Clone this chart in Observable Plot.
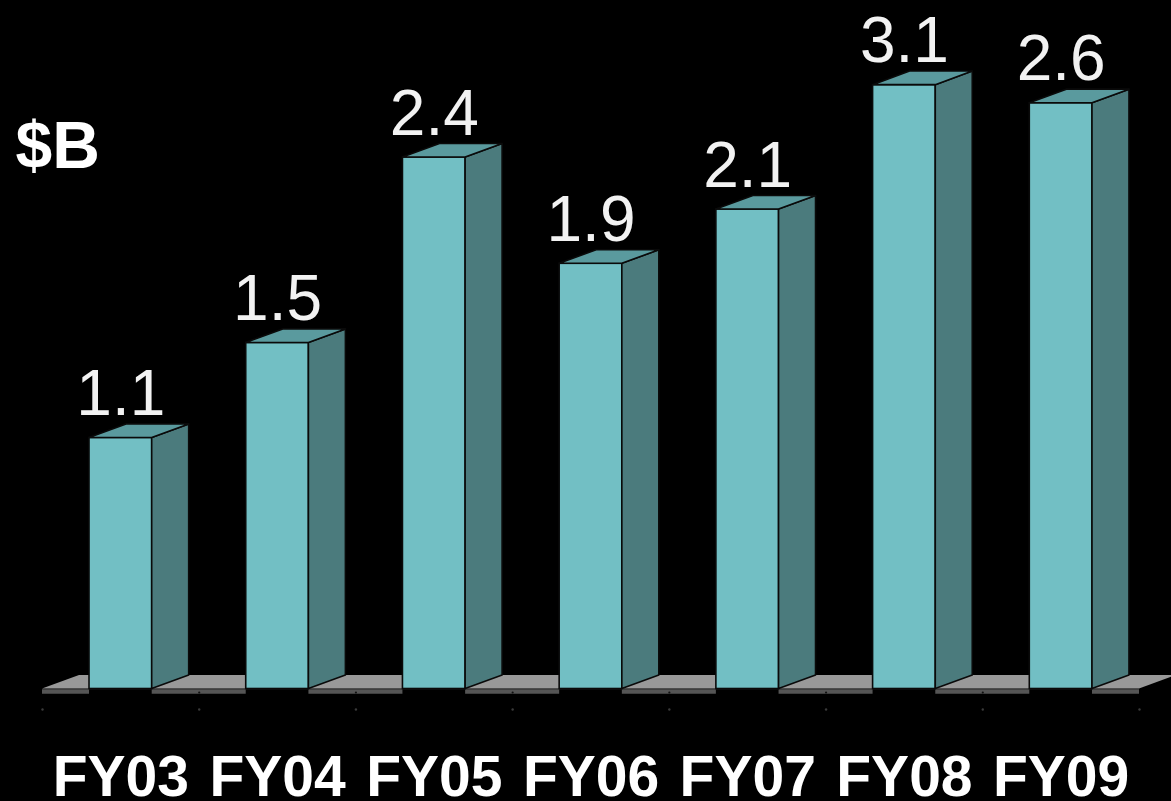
<!DOCTYPE html>
<html>
<head>
<meta charset="utf-8">
<script src="https://cdn.jsdelivr.net/npm/d3@7"></script>
<script src="https://cdn.jsdelivr.net/npm/@observablehq/plot@0.6"></script>
<style>
  html, body { margin: 0; padding: 0; background: #000; overflow: hidden; }
  #chart svg { display: block; }
</style>
</head>
<body>
<div id="chart"></div>
<script>
// ---- data ----
const categories = ["FY03", "FY04", "FY05", "FY06", "FY07", "FY08", "FY09"];
const valueLabels = ["1.1", "1.5", "2.4", "1.9", "2.1", "3.1", "2.6"];   // printed above bars
const barHeights  = [1.11, 1.53, 2.35, 1.88, 2.12, 2.67, 2.59];           // drawn bar heights ($B)
const unitLabel = "$B";

// ---- 3D styling constants (data units) ----
const HALF = 0.2;     // half width of the front face
const DX = 0.236;     // depth offset along x
const DY = 0.06;      // depth offset along y

const idx = categories.map((_, i) => i);
const frontFaces = idx.map(i => ({cat: categories[i], x1: i - HALF, x2: i + HALF, y1: 0, y2: barHeights[i]}));
const sideFaces = idx.flatMap(i => [
  {cat: categories[i], x: i + HALF, y1: 0, y2: barHeights[i]},
  {cat: categories[i], x: i + HALF + DX, y1: DY, y2: barHeights[i] + DY}
]);
const topFaces = idx.flatMap(i => [
  {cat: categories[i], y: barHeights[i], x1: i - HALF, x2: i + HALF},
  {cat: categories[i], y: barHeights[i] + DY, x1: i - HALF + DX, x2: i + HALF + DX}
]);
const x0 = -0.5, xN = categories.length - 0.5;
const floorTop = [{y: 0, x1: x0, x2: xN}, {y: DY, x1: x0 + DX, x2: xN + DX}];
const floorEdge = [{y: 0, x1: x0, x2: xN}];
const bounds = d3.range(categories.length + 1).map(i => i - 0.5);

const font = "'Liberation Sans', Arial, Helvetica, sans-serif";

const chart = Plot.plot({
  width: 1171,
  height: 801,
  marginLeft: 42,
  marginRight: 32,
  marginTop: 10,
  marginBottom: 112.5,
  style: {background: "#000", fontFamily: font, overflow: "visible"},
  x: {type: "linear", domain: [x0, xN], axis: null},
  y: {domain: [0, 3], axis: null},
  marks: [
    // floor
    Plot.areaX(floorTop, {y: "y", x1: "x1", x2: "x2", fill: "#999999"}),
    Plot.ruleY(floorEdge, {y: "y", x1: "x1", x2: "x2", stroke: "#555555", strokeWidth: 4.5, dy: 2.6}),
    Plot.ruleY(frontFaces, {y: "y1", x1: "x1", x2: "x2", stroke: "#000", strokeWidth: 5, dy: 2.8}),
    Plot.dot(bounds.slice(1, -1), {x: d => d, y: 0, dy: 3.5, r: 1.1, fill: "#111"}),
    Plot.dot(bounds, {x: d => d, y: 0, dy: 20.5, r: 1.2, fill: "#3a3a3a"}),
    // bars
    Plot.rect(frontFaces, {x1: "x1", x2: "x2", y1: "y1", y2: "y2", fill: "#72BFC4", stroke: "#0a0a0a", strokeWidth: 1.6}),
    Plot.areaY(sideFaces, {x: "x", y1: "y1", y2: "y2", z: "cat", fill: "#4B7B7D", stroke: "#0a0a0a", strokeWidth: 1.6}),
    Plot.areaX(topFaces, {y: "y", x1: "x1", x2: "x2", z: "cat", fill: "#5A9A9E", stroke: "#0a0a0a", strokeWidth: 1.6}),
    // value labels
    Plot.text(idx, {x: i => i, y: i => barHeights[i], text: i => valueLabels[i], dy: -23, lineAnchor: "bottom",
      fontSize: 64, fill: "#f2f2f2", fontFamily: font}),
    // category labels
    Plot.text(idx, {x: i => i, y: 0, text: i => categories[i], dy: 106.5, lineAnchor: "bottom",
      fontSize: 57, fontWeight: "bold", fill: "#ffffff", fontFamily: font}),
    // unit
    Plot.text([unitLabel], {frameAnchor: "top-left", text: d => d, textAnchor: "start", lineAnchor: "bottom",
      dx: -27, dy: 157, fontSize: 66, fontWeight: "bold", fill: "#ffffff", fontFamily: font})
  ]
});
document.getElementById("chart").appendChild(chart);
</script>
</body>
</html>
